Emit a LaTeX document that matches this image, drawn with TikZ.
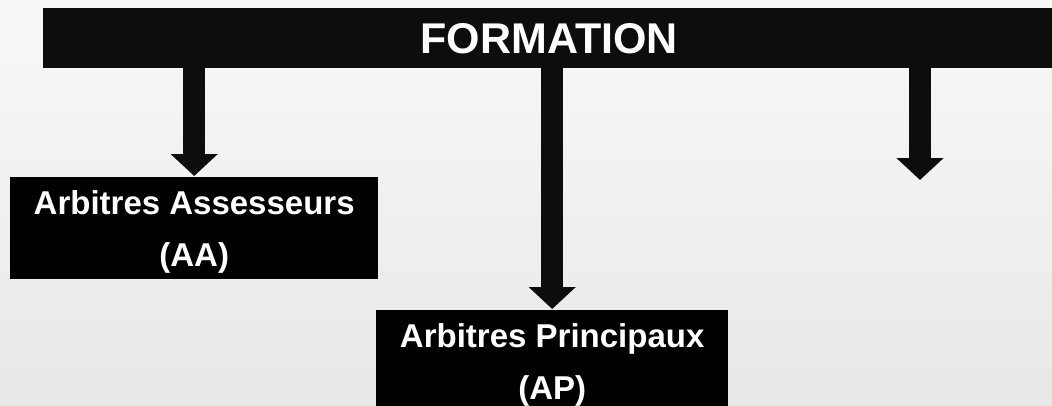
\documentclass[tikz,border=0pt]{standalone}
\usepackage{fontspec}
\setmainfont{Liberation Sans}
\usetikzlibrary{arrows.meta}
\definecolor{bgtop}{HTML}{F8F8F8}
\definecolor{bgbot}{HTML}{E8E8E8}
\definecolor{barblack}{HTML}{0D0D0D}
\newcommand{\toppad}{\rule{0pt}{32pt}}
\tikzset{
  blackbar/.style={fill=barblack, draw=none, inner sep=0pt, text=white,
    font=\fontsize{43}{50}\selectfont\bfseries},
  levelbox/.style={fill=black, draw=none, inner sep=0pt, text=white, align=center,
    font=\fontsize{33}{52}\selectfont\bfseries},
  blockarrow/.style={draw=barblack, line width=22pt,
    -{Triangle[width=46pt,length=22pt]}}
}
\begin{document}
\begin{tikzpicture}[x=1pt,y=1pt]
\useasboundingbox (0,0) rectangle (1052,-405);
\shade[top color=bgtop, bottom color=bgbot] (0,0) rectangle (1052,-405);
\node[blackbar, minimum width=1012pt, minimum height=60pt, anchor=north west] (bar) at (43,-8) {FORMATION};
\node[levelbox, minimum width=368pt, minimum height=102pt, anchor=north west] (aa) at (10,-177) {\toppad Arbitres Assesseurs\\(AA)};
\node[levelbox, minimum width=352pt, minimum height=102pt, anchor=north west] (ap) at (376,-310) {\toppad Arbitres Principaux\\(AP)};
\coordinate (c3) at (920,-180);
\draw[blockarrow] ([yshift=2pt]bar.south -| aa.north) -- ([yshift=1pt]aa.north);
\draw[blockarrow] ([yshift=2pt]bar.south -| ap.north) -- ([yshift=1pt]ap.north);
\draw[blockarrow] ([yshift=2pt]bar.south -| c3) -- (c3);
\end{tikzpicture}
\end{document}
